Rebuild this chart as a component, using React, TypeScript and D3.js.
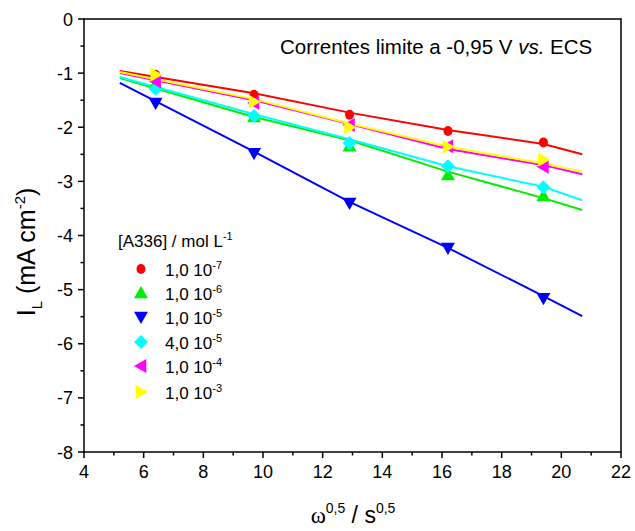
import React from "react";
import * as d3 from "d3";

const xPoints = [6.4, 9.7, 12.9, 16.2, 19.4];
const fitX = [5.2, 9.7, 12.9, 16.2, 19.4, 20.7];

const labels = ["1,0 10", "1,0 10", "1,0 10", "4,0 10", "1,0 10", "1,0 10"];
const exps = ["-7", "-6", "-5", "-5", "-4", "-3"];
const colors = ["#ff0000", "#00ee00", "#0000ff", "#00ffff", "#ff00ff", "#ffff00"];
const shapes = ["circle", "up", "down", "diamond", "left", "right"];

const redPts = [-1.03, -1.40, -1.77, -2.07, -2.28];
const greenPts = [-1.2, -1.81, -2.35, -2.88, -3.27];
const bluePts = [-1.55, -2.48, -3.40, -4.23, -5.16];
const cyanPts = [-1.29, -1.79, -2.29, -2.72, -3.11];
const magentaPts = [-1.15, -1.55, -1.96, -2.35, -2.73];
const yellowPts = [-1.03, -1.53, -2.0, -2.36, -2.6];

const redFit = [-0.96, -1.37, -1.73, -2.05, -2.31, -2.5];
const greenFit = [-1.09, -1.81, -2.24, -2.82, -3.31, -3.53];
const blueFit = [-1.18, -2.45, -3.38, -4.23, -5.12, -5.49];
const cyanFit = [-1.07, -1.76, -2.22, -2.72, -3.1, -3.35];
const magentaFit = [-1.0, -1.5, -1.94, -2.4, -2.7, -2.87];
const yellowFit = [-0.98, -1.48, -1.93, -2.36, -2.67, -2.82];

const seriesPts = [redPts, greenPts, bluePts, cyanPts, magentaPts, yellowPts];
const seriesFit = [redFit, greenFit, blueFit, cyanFit, magentaFit, yellowFit];

const xTicks = [4, 6, 8, 10, 12, 14, 16, 18, 20, 22];
const yTicks = [0, -1, -2, -3, -4, -5, -6, -7, -8];

const font = "'Liberation Sans', Arial, sans-serif";

function Marker({ shape, x, y, color }: { shape: string; x: number; y: number; color: string }) {
  const s = 7;
  if (shape === "circle") return <ellipse cx={x} cy={y} rx={4.5} ry={5} fill={color} />;
  let pts: number[][] = [];
  if (shape === "up") pts = [[0, -s], [s, s * 0.75], [-s, s * 0.75]];
  if (shape === "down") pts = [[0, s], [s, -s * 0.75], [-s, -s * 0.75]];
  if (shape === "left") pts = [[-s, 0], [s * 0.75, -s], [s * 0.75, s]];
  if (shape === "right") pts = [[s, 0], [-s * 0.75, -s], [-s * 0.75, s]];
  if (shape === "diamond") pts = [[0, -s], [s, 0], [0, s], [-s, 0]];
  return <polygon points={pts.map((p) => `${x + p[0]},${y + p[1]}`).join(" ")} fill={color} />;
}

export default function App() {
  const left = 84, right = 621, top = 19, bottom = 452;
  const x = d3.scaleLinear().domain([4, 22]).range([left, right]);
  const y = d3.scaleLinear().domain([0, -8]).range([top, bottom]);
  const line = d3.line<[number, number]>().x((d) => x(d[0])).y((d) => y(d[1]));
  const xMinor = d3.range(5, 22, 2);
  const yMinor = d3.range(-0.5, -8, -1);
  const legendY = [269, 293, 317, 342, 366, 392];

  return (
    <svg width={635} height={531} style={{ position: "absolute", left: 0, top: 0, background: "#fff" }} fontFamily={font}>
      <rect x={0} y={0} width={635} height={531} fill="#fff" />
      {seriesFit.map((f, i) => (
        <path key={i} d={line(fitX.map((xv, j) => [xv, f[j]]) as [number, number][]) || ""} fill="none" stroke={colors[i]} strokeWidth={2} />
      ))}
      {seriesPts.map((p, i) =>
        p.map((v, j) => <Marker key={`${i}-${j}`} shape={shapes[i]} x={x(xPoints[j])} y={y(v)} color={colors[i]} />)
      )}
      <rect x={left} y={top} width={right - left} height={bottom - top} fill="none" stroke="#000" strokeWidth={1.5} />
      {xTicks.map((t) => (
        <g key={t}>
          <line x1={x(t)} x2={x(t)} y1={bottom} y2={bottom + 6} stroke="#000" strokeWidth={1.5} />
          <text x={x(t)} y={bottom + 26} textAnchor="middle" fontSize={18}>{t}</text>
        </g>
      ))}
      {xMinor.map((t) => (
        <line key={t} x1={x(t)} x2={x(t)} y1={bottom} y2={bottom + 3.5} stroke="#000" strokeWidth={1.5} />
      ))}
      {yTicks.map((t) => (
        <g key={t}>
          <line x1={left - 6} x2={left} y1={y(t)} y2={y(t)} stroke="#000" strokeWidth={1.5} />
          <text x={left - 11} y={y(t) + 6.5} textAnchor="end" fontSize={18}>{t}</text>
        </g>
      ))}
      {yMinor.map((t) => (
        <line key={t} x1={left - 3.5} x2={left} y1={y(t)} y2={y(t)} stroke="#000" strokeWidth={1.5} />
      ))}
      <text x={353} y={523} textAnchor="middle" fontSize={23}>
        <tspan fontFamily="'Liberation Serif', serif">ω</tspan>
        <tspan fontSize={14} dy={-10}>0,5</tspan>
        <tspan dy={10}> / s</tspan>
        <tspan fontSize={14} dy={-10}>0,5</tspan>
      </text>
      <g transform="translate(35,252) rotate(-90)">
        <text x={0} y={0} textAnchor="middle" fontSize={25}>
          <tspan>I</tspan>
          <tspan fontSize={15} dy={7}>L</tspan>
          <tspan dy={-7}> (mA cm</tspan>
          <tspan fontSize={15} dy={-10}>-2</tspan>
          <tspan dy={10}>)</tspan>
        </text>
      </g>
      <text x={280} y={54} fontSize={20.5}>
        Correntes limite a -0,95 V <tspan fontStyle="italic">vs.</tspan> ECS
      </text>
      <text x={118} y={247} fontSize={17}>
        [A336] / mol L<tspan fontSize={11} dy={-7}>-1</tspan>
      </text>
      {labels.map((l, i) => (
        <g key={i}>
          <Marker shape={shapes[i]} x={141} y={legendY[i]} color={colors[i]} />
          <text x={165} y={legendY[i] + 7} fontSize={17}>
            {l}<tspan fontSize={11} dy={-7}>{exps[i]}</tspan>
          </text>
        </g>
      ))}
    </svg>
  );
}
